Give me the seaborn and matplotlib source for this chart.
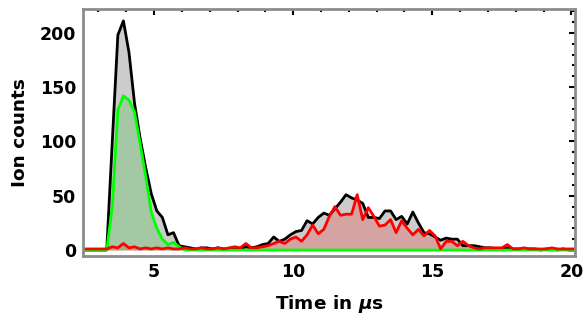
import numpy as np
import pandas as pd
import matplotlib
matplotlib.use("Agg")
import matplotlib.pyplot as plt
from matplotlib.ticker import MultipleLocator
import seaborn as sns

# Time-of-flight bins (µs), 0.2 µs spacing
time_us = np.round(np.arange(2.3, 20.11, 0.2), 1)

# Total ion counts per bin
total_counts = [
    0, 0, 0, 0, 0, 0, 100, 198, 211, 182,
    135, 103, 76, 52, 36, 30, 14, 16, 4, 3,
    2, 1, 2, 2, 1, 2, 1, 1, 2, 1,
    3, 2, 3, 5, 6, 12, 8, 10, 14, 17,
    18, 27, 24, 30, 34, 32, 38, 44, 51, 48,
    46, 43, 30, 30, 29, 36, 36, 28, 31, 24,
    35, 25, 16, 15, 12, 9, 11, 10, 10, 4,
    4, 4, 3, 2, 2, 1, 1, 2, 1, 1,
    1, 1, 1, 0, 1, 1, 0, 1, 0, 0,
]

# Counts from the early (fast) species
green_counts = [
    0, 0, 0, 0, 0, 0, 40, 129, 142, 138,
    127, 98, 68, 35, 20, 10, 5, 7, 3, 0,
    0, 0, 0, 0, 0, 0, 0, 0, 0, 0,
    0, 0, 0, 0, 0, 0, 0, 0, 0, 0,
    0, 0, 0, 0, 0, 0, 0, 0, 0, 0,
    0, 0, 0, 0, 0, 0, 0, 0, 0, 0,
    0, 0, 0, 0, 0, 0, 0, 0, 0, 0,
    0, 0, 0, 0, 0, 0, 0, 0, 0, 0,
    0, 0, 0, 0, 0, 0, 0, 0, 0, 0,
]

# Counts from the late (slow) species
red_counts = [
    1, 1, 1, 1, 1, 1, 3, 2, 6, 2,
    3, 1, 2, 1, 2, 1, 2, 1, 1, 2,
    1, 1, 2, 1, 1, 2, 1, 2, 3, 2,
    6, 2, 2, 3, 4, 6, 8, 6, 10, 12,
    8, 14, 23, 15, 19, 31, 40, 32, 33, 33,
    51, 28, 39, 31, 22, 23, 28, 16, 27, 20,
    14, 19, 13, 18, 13, 1, 8, 8, 4, 8,
    4, 2, 1, 2, 2, 2, 2, 5, 1, 1,
    2, 1, 1, 1, 1, 2, 1, 1, 1, 1,
]

df = pd.DataFrame({
    "time": time_us,
    "total": total_counts,
    "green": green_counts,
    "red": red_counts,
})

sns.set_theme(style="white")
plt.rcParams["font.family"] = ["DejaVu Sans"]
plt.rcParams["font.weight"] = "bold"
plt.rcParams["mathtext.fontset"] = "dejavusans"
plt.rcParams["text.color"] = "black"
plt.rcParams["axes.labelcolor"] = "black"
plt.rcParams["xtick.color"] = "black"
plt.rcParams["ytick.color"] = "black"

fig = plt.figure(figsize=(5.85, 3.2), dpi=100)
ax = fig.add_axes([0.142, 0.2, 0.841, 0.772])

# (column, line colour, fill colour)
series = [
    ("total", "black", "black"),
    ("green", "#00ff00", "#00b800"),
    ("red", "#ff0000", "#ff0000"),
]

# Filled areas down to the axis, translucent and stacked in drawing order
for col, _, fill in series:
    ax.fill_between(df["time"], 0, df[col], color=fill, alpha=0.2,
                    linewidth=0, zorder=1)

for col, color, _ in series:
    sns.lineplot(data=df, x="time", y=col, color=color, linewidth=2.0,
                 ax=ax, zorder=2, estimator=None)

ax.set_xlim(2.45, 20.13)
ax.set_ylim(-5.5, 222)

ax.xaxis.set_major_locator(MultipleLocator(5))
ax.xaxis.set_minor_locator(MultipleLocator(1))
ax.yaxis.set_major_locator(MultipleLocator(50))
ax.yaxis.set_minor_locator(MultipleLocator(10))

ax.tick_params(which="both", direction="in", top=True, right=True,
               color="black", width=1.5)
ax.tick_params(which="major", length=4.0, labelsize=12.5, pad=5)
ax.tick_params(which="minor", length=2.2)
for lab in ax.get_xticklabels() + ax.get_yticklabels():
    lab.set_fontweight("bold")

for sp in ax.spines.values():
    sp.set_color("#8c8c8c")
    sp.set_linewidth(2.0)
    sp.set_visible(True)

ax.set_xlabel(r"Time in $\boldsymbol{\mu}$s", fontsize=13.3, fontweight="bold",
              labelpad=9)
ax.set_ylabel("Ion counts", fontsize=13.3, fontweight="bold", labelpad=8)

fig.savefig("out.png", dpi=100)
